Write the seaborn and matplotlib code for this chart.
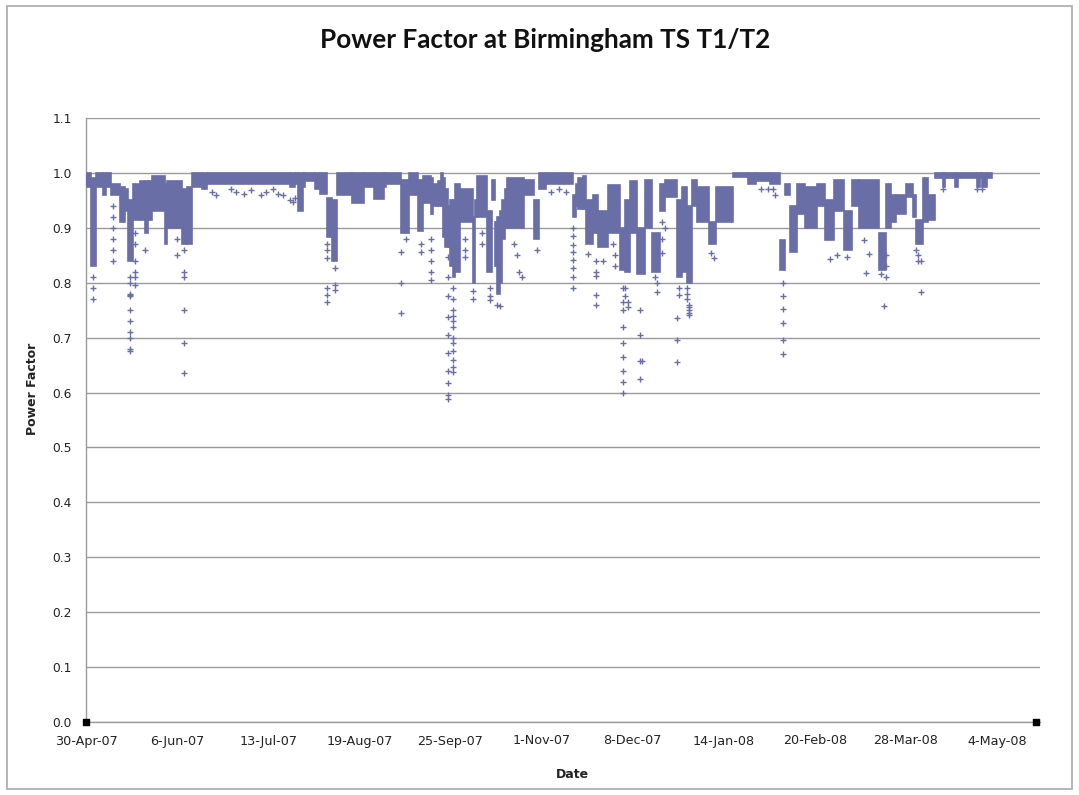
import numpy as np
import pandas as pd
import matplotlib
matplotlib.use("Agg")
import matplotlib.pyplot as plt
import seaborn as sns

# ---------------- data ----------------
start_date = "2007-04-30"
tick_labels = ["30-Apr-07", "6-Jun-07", "13-Jul-07", "19-Aug-07", "25-Sep-07",
               "1-Nov-07", "8-Dec-07", "14-Jan-08", "20-Feb-08", "28-Mar-08", "4-May-08"]
y_ticks = [0.0, 0.1, 0.2, 0.3, 0.4, 0.5, 0.6, 0.7, 0.8, 0.9, 1.0, 1.1]

# dense band of readings: start day of each span (days after 30-Apr-07), top and bottom
band_start = [0, 2, 4, 7, 8, 10, 14, 16, 17, 19,
              22, 24, 25, 27, 32, 33, 39, 41, 43, 47,
              49, 83, 85, 86, 88, 89, 93, 95, 98, 100,
              102, 108, 113, 117, 121, 122, 128, 131, 135, 137,
              140, 141, 143, 144, 145, 146, 147, 148, 149, 150,
              152, 157, 158, 159, 163, 165, 166, 167, 168, 169,
              170, 171, 178, 182, 184, 187, 198, 199, 200, 202,
              203, 206, 208, 212, 217, 219, 221, 224, 227, 230,
              233, 235, 240, 242, 244, 246, 248, 253, 256, 263,
              269, 272, 278, 282, 284, 286, 289, 292, 297, 300,
              304, 308, 311, 314, 322, 325, 327, 329, 333, 336,
              337, 340, 342, 345, 348, 349, 353, 354, 362, 363,
              364, 366]
band_end_day = 368
band_hi = [1.0, 0.99, 1.0, 1.0, 1.0, 0.98, 0.975, 0.97, 0.95, 0.98,
           0.985, 0.985, 0.985, 0.995, 0.98, 0.985, 0.97, 0.975, 1.0, 1.0,
           1.0, 1.0, 1.0, 1.0, 1.0, 1.0, 1.0, 1.0, 0.955, 0.95,
           1.0, 1.0, 1.0, 1.0, 1.0, 1.0, 0.987, 1.0, 0.987, 0.995,
           0.99, 0.98, 0.985, 1.0, 0.99, 0.97, 0.94, 0.95, 0.95, 0.98,
           0.97, 0.92, 0.95, 0.995, 0.93, 0.987, 0.91, 0.92, 0.93, 0.95,
           0.97, 0.99, 0.987, 0.95, 1.0, 1.0, 0.96, 0.98, 0.99, 0.995,
           0.95, 0.96, 0.93, 0.978, 0.90, 0.95, 0.985, 0.90, 0.987, 0.89,
           0.98, 0.987, 0.95, 0.975, 0.94, 0.987, 0.975, 0.91, 0.975, 1.0,
           1.0, 1.0, 1.0, 0.877, 0.98, 0.94, 0.98, 0.975, 0.98, 0.95,
           0.987, 0.93, 0.987, 0.987, 0.89, 0.98, 0.96, 0.96, 0.98, 0.96,
           0.914, 0.99, 0.96, 1.0, 1.0, 1.0, 1.0, 1.0, 1.0, 1.0,
           1.0, 1.0]
band_lo = [0.975, 0.83, 0.975, 0.96, 0.975, 0.96, 0.91, 0.93, 0.84, 0.915,
           0.915, 0.89, 0.915, 0.93, 0.87, 0.90, 0.87, 0.87, 0.975, 0.97,
           0.98, 0.975, 0.98, 0.93, 0.975, 0.985, 0.97, 0.962, 0.884, 0.84,
           0.96, 0.945, 0.975, 0.952, 0.975, 0.98, 0.89, 0.96, 0.895, 0.945,
           0.926, 0.94, 0.94, 0.94, 0.884, 0.865, 0.865, 0.83, 0.81, 0.82,
           0.91, 0.80, 0.92, 0.92, 0.82, 0.95, 0.83, 0.78, 0.80, 0.88,
           0.90, 0.90, 0.96, 0.88, 0.97, 0.98, 0.92, 0.94, 0.935, 0.935,
           0.87, 0.89, 0.865, 0.89, 0.823, 0.82, 0.89, 0.816, 0.90, 0.82,
           0.93, 0.956, 0.81, 0.82, 0.80, 0.94, 0.91, 0.87, 0.91, 0.993,
           0.98, 0.985, 0.98, 0.823, 0.96, 0.856, 0.926, 0.90, 0.94, 0.877,
           0.93, 0.86, 0.94, 0.90, 0.823, 0.90, 0.91, 0.926, 0.956, 0.92,
           0.87, 0.91, 0.914, 0.99, 0.975, 0.99, 0.975, 0.99, 0.975, 0.99,
           0.975, 0.99]

# isolated low readings below the dense band
tail_day = [3, 11, 18, 20, 24, 37, 40,
            51, 53, 59, 61, 64, 67, 71, 73, 76, 78, 80, 83, 84, 85,
            98, 101, 128, 130, 136, 140, 147, 149, 154, 157, 161, 164, 167, 168,
            174, 175, 176, 177, 183, 189, 192, 195, 198, 204, 207, 210, 214, 215,
            218, 219, 220, 225, 226, 231, 232, 234, 235, 240, 241, 244, 245, 254, 255,
            274, 277, 279, 280, 283, 302, 305, 309, 316, 317, 318, 323, 324, 325,
            337, 338, 339, 348, 362, 364]
tail_pf = [[0.81, 0.79, 0.77], [0.94, 0.92, 0.90, 0.88, 0.86, 0.84],
           [0.81, 0.80, 0.78, 0.778, 0.775, 0.75, 0.73, 0.71, 0.70, 0.68, 0.675],
           [0.89, 0.87, 0.84, 0.82, 0.81, 0.795], [0.86], [0.88, 0.85],
           [0.86, 0.82, 0.81, 0.75, 0.69, 0.635],
           [0.965], [0.96], [0.97], [0.965], [0.962], [0.968], [0.96], [0.965],
           [0.97], [0.962], [0.96], [0.95], [0.947], [0.955],
           [0.87, 0.86, 0.845, 0.79, 0.777, 0.765], [0.826, 0.795, 0.786],
           [0.856, 0.80, 0.744], [0.88], [0.87, 0.856], [0.88, 0.86, 0.84, 0.82, 0.805],
           [0.847, 0.81, 0.776, 0.738, 0.705, 0.672, 0.64, 0.617, 0.595, 0.589],
           [0.79, 0.77, 0.75, 0.74, 0.73, 0.72, 0.70, 0.69, 0.675, 0.66, 0.647, 0.637],
           [0.88, 0.86, 0.847], [0.785, 0.77], [0.89, 0.87], [0.79, 0.775, 0.768],
           [0.76], [0.757],
           [0.87], [0.85], [0.82], [0.81], [0.86], [0.965], [0.97], [0.965],
           [0.90, 0.886, 0.868, 0.856, 0.841, 0.826, 0.81, 0.79], [0.853],
           [0.84, 0.82, 0.813, 0.777, 0.759], [0.84], [0.87], [0.85, 0.83],
           [0.79, 0.764, 0.75, 0.72, 0.69, 0.665, 0.64, 0.62, 0.60], [0.79, 0.776],
           [0.765, 0.756], [0.75, 0.705, 0.657, 0.625], [0.657], [0.81], [0.80, 0.783],
           [0.91, 0.88, 0.855], [0.90], [0.735, 0.695, 0.656], [0.79, 0.777],
           [0.79, 0.78, 0.77], [0.76, 0.755, 0.75, 0.745, 0.742], [0.855], [0.845],
           [0.97], [0.97], [0.97], [0.96], [0.80, 0.776, 0.753, 0.726, 0.695, 0.671],
           [0.844], [0.85], [0.847], [0.877], [0.817], [0.853], [0.815], [0.758],
           [0.81, 0.83, 0.85],
           [0.86], [0.85, 0.84], [0.84, 0.783], [0.97], [0.97], [0.97]]

# black square markers at the ends of the x axis
axis_marker_day = [0, 386]
axis_marker_pf = [0.0, 0.0]

# ---------------- drawing ----------------
sns.set_style("white")
plt.rcParams["font.family"] = ["DejaVu Sans"]

W, H = 1079, 795
fig = plt.figure(figsize=(W / 100, H / 100), dpi=100)
ax = fig.add_axes([86 / W, 1 - 722 / H, (1040 - 86) / W, (722 - 118) / H])

pt_color = "#6a6ea6"

b_start = np.array(band_start, dtype=float)
b_end = np.append(b_start[1:], band_end_day)
b_hi = np.array(band_hi)
b_lo = np.array(band_lo)
ax.bar(b_start, b_hi - b_lo, bottom=b_lo, width=b_end - b_start, align="edge",
       color=pt_color, edgecolor=pt_color, linewidth=1.2, zorder=3)

tails = pd.DataFrame({"day": tail_day, "pf": tail_pf}).explode("pf")
tails["pf"] = tails["pf"].astype(float)
sns.scatterplot(data=tails, x="day", y="pf", marker="+", s=22, linewidth=1.0,
                color=pt_color, ax=ax, zorder=4)

ax.scatter(axis_marker_day, axis_marker_pf, marker="s", s=22, color="black",
           zorder=6, clip_on=False)

tick_days = (pd.to_datetime(tick_labels, format="%d-%b-%y") - pd.Timestamp(start_date)).days
ax.set_xticks(tick_days)
ax.set_xticklabels(tick_labels, fontsize=9.2, color="#222222")
ax.set_yticks(y_ticks)
ax.set_yticklabels([f"{v:.1f}" for v in y_ticks], fontsize=8.8, color="#222222")
ax.set_xlim(0, 387.5)
ax.set_ylim(0, 1.1)
ax.tick_params(axis="x", length=0, pad=9)
ax.tick_params(axis="y", length=0, pad=10)

ax.grid(axis="y", color="#9a9a9a", linewidth=1.0, zorder=0)
ax.set_axisbelow(True)
for side in ["top", "right"]:
    ax.spines[side].set_visible(False)
for side in ["left", "bottom"]:
    ax.spines[side].set_color("#9a9a9a")
    ax.spines[side].set_linewidth(1.0)

ax.set_xlabel("")
ax.set_ylabel("")
fig.text(572 / W, 1 - 774 / H, "Date", ha="center", va="center",
         fontsize=9, fontweight="bold", color="#222222")
fig.text(33 / W, 1 - 389 / H, "Power Factor", ha="center", va="center", rotation=90,
         fontsize=9, fontweight="bold", color="#222222")

fig.text(545 / W, 1 - 40 / H, "Power Factor at Birmingham TS T1/T2", ha="center", va="center",
         fontsize=18.8, fontweight="bold", family=["Lato", "DejaVu Sans"], color="#111111")

border = plt.Rectangle((7 / W, 1 - 789 / H), (1072 - 7) / W, (789 - 6) / H,
                       transform=fig.transFigure, fill=False, edgecolor="#b0b0b0",
                       linewidth=1.3)
fig.add_artist(border)

fig.savefig("out.png", dpi=100)
